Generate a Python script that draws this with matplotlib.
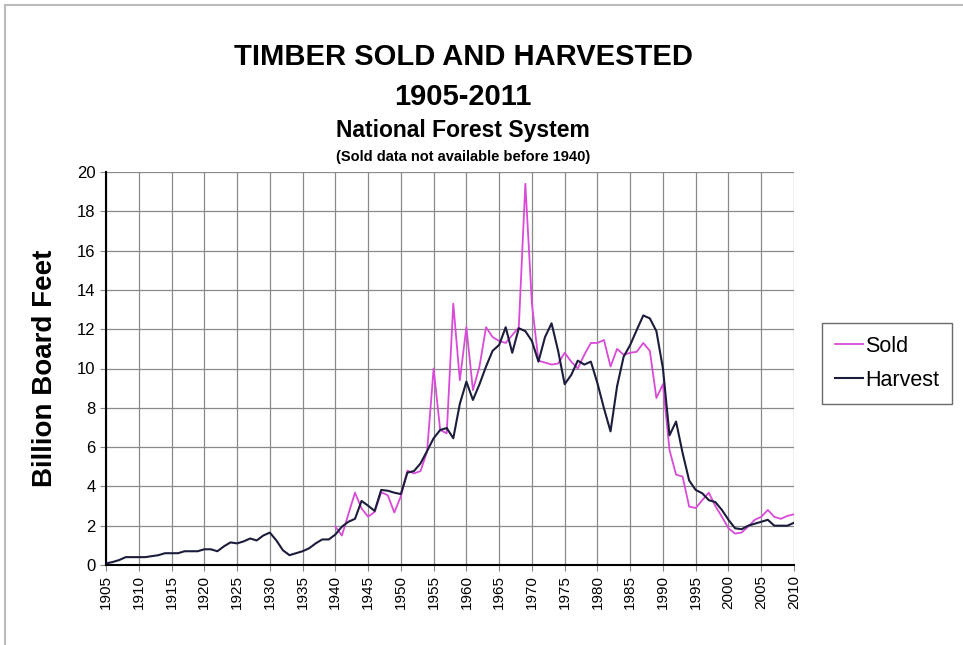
import numpy as np
from matplotlib import pyplot as plt
from matplotlib.lines import Line2D

# National Forest System timber volumes, billion board feet
years = np.arange(1905, 2011)

harvest = [0.08, 0.15, 0.25, 0.4, 0.4, 0.4, 0.4, 0.45, 0.5, 0.6,
           0.6, 0.6, 0.7, 0.7, 0.7, 0.8, 0.8, 0.7, 0.95, 1.15,
           1.1, 1.2, 1.35, 1.25, 1.5, 1.65, 1.25, 0.75, 0.5, 0.6,
           0.7, 0.85, 1.1, 1.3, 1.3, 1.55, 1.95, 2.2, 2.35, 3.26,
           3.02, 2.75, 3.82, 3.78, 3.68, 3.61, 4.7, 4.78, 5.17, 5.8,
           6.45, 6.87, 6.97, 6.45, 8.2, 9.33, 8.4, 9.2, 10.1, 10.9,
           11.2, 12.1, 10.8, 12.05, 11.9, 11.4, 10.35, 11.6, 12.3, 10.9,
           9.2, 9.67, 10.4, 10.2, 10.35, 9.25, 7.97, 6.8, 9.1, 10.6,
           11.2, 11.96, 12.7, 12.55, 11.9, 10.0, 6.6, 7.3, 5.7, 4.3,
           3.82, 3.65, 3.3, 3.2, 2.8, 2.3, 1.87, 1.82, 2.0, 2.1,
           2.2, 2.3, 2.0, 2.0, 2.0, 2.15]

sold_years = np.arange(1940, 2011)
sold = [1.95, 1.5, 2.6, 3.68, 2.88, 2.46, 2.7, 3.7, 3.55, 2.67,
        3.5, 4.8, 4.66, 4.78, 5.77, 10.0, 6.87, 6.7, 13.3, 9.4,
        12.1, 8.9, 10.1, 12.1, 11.6, 11.4, 11.3, 11.7, 12.1, 19.4,
        13.3, 10.4, 10.3, 10.2, 10.25, 10.8, 10.35, 10.0, 10.7, 11.3,
        11.3, 11.45, 10.1, 11.0, 10.7, 10.8, 10.85, 11.3, 10.9, 8.5,
        9.2, 5.85, 4.6, 4.5, 2.97, 2.9, 3.3, 3.68, 3.0, 2.45,
        1.87, 1.6, 1.65, 1.95, 2.3, 2.45, 2.8, 2.45, 2.35, 2.5,
        2.58]

plt.rcParams['font.family'] = ['Liberation Sans', 'DejaVu Sans']

fig = plt.figure(figsize=(9.63, 6.45), dpi=100)
ax = fig.add_axes([106/963, 1 - 565/645, (794 - 106)/963, (565 - 172)/645])

ax.plot(sold_years, sold, color='#d94ad9', lw=1.3, label='Sold', zorder=3)
ax.plot(years, harvest, color='#1c1c3c', lw=1.5, label='Harvest', zorder=4)

ax.set_xlim(1905, 2010)
ax.set_ylim(0, 20)
ax.set_xticks(np.arange(1905, 2011, 5))
ax.set_yticks(np.arange(0, 21, 2))
ax.tick_params(axis='x', labelrotation=90, labelsize=11, length=4, color='#888888')
ax.tick_params(axis='y', labelsize=12, length=4, color='#888888')
ax.grid(True, color='#8a8a8a', lw=0.9)
ax.set_axisbelow(True)
for s in ['top', 'right']:
    ax.spines[s].set_visible(False)
ax.spines['left'].set_linewidth(1.5)
ax.spines['bottom'].set_linewidth(1.5)

ax.set_ylabel("Billion Board Feet", fontsize=20, fontweight='bold', labelpad=14)

fig.text(0.481, 0.912, "TIMBER SOLD AND HARVESTED", ha='center', va='center',
         fontsize=21, fontweight='bold')
fig.text(0.481, 0.850, "1905-2011", ha='center', va='center',
         fontsize=21, fontweight='bold')
fig.text(0.481, 0.798, "National Forest System", ha='center', va='center',
         fontsize=16.5, fontweight='bold')
fig.text(0.481, 0.757, "(Sold data not available before 1940)", ha='center', va='center',
         fontsize=10.5, fontweight='bold')

leg = fig.legend(loc='upper left', bbox_to_anchor=(822/963, 1 - 323/645),
                 fontsize=15.5, frameon=True, fancybox=False, handlelength=1.3,
                 handletextpad=0.1, borderpad=0.6, labelspacing=0.6,
                 borderaxespad=0)
leg.get_frame().set_edgecolor('#444444')
leg.get_frame().set_linewidth(1.0)

# screenshot frame
fig.add_artist(Line2D([5/963, 1], [1 - 5/645, 1 - 5/645], color='#bbbbbb', lw=1.5))
fig.add_artist(Line2D([5/963, 5/963], [0, 1 - 5/645], color='#bbbbbb', lw=1.5))

fig.savefig("out.png", dpi=100)
